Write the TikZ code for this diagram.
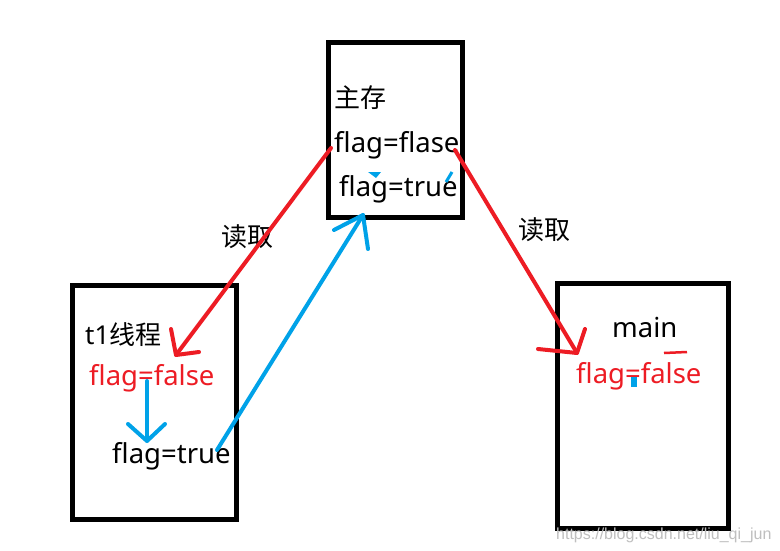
\documentclass[tikz,border=0pt]{standalone}
\usepackage{fontspec}
\setmainfont{Noto Sans}
\newfontfamily\cjk{Noto Sans CJK SC}
\newfontfamily\wmfont{Liberation Sans}
\definecolor{pred}{HTML}{ED1C24}
\definecolor{pblue}{HTML}{00A2E8}
\begin{document}
\begin{tikzpicture}[x=1pt,y=-1pt,
  box/.style={draw=black,line width=5pt,fill=white},
  lbl/.style={inner sep=0pt,anchor=west,font=\fontsize{27.5}{29}\selectfont},
  cjklbl/.style={inner sep=0pt,anchor=west,font=\fontsize{26}{28}\selectfont\cjk},
  redline/.style={draw=pred,line width=4pt,line cap=round,line join=round},
  blueline/.style={draw=pblue,line width=4pt,line cap=round,line join=round}]
\useasboundingbox[fill=white] (0,0) rectangle (780,551);
% boxes
\draw[box] (328,43) rectangle (462,217);
\draw[box] (72,285) rectangle (236,519);
\draw[box] (557,283) rectangle (728,528);
% main memory texts
\node[cjklbl] (zc) at (334,98) {主存};
\node[lbl] (mflase) at (334,145) {flag=flase};
\node[lbl] (mtrue) at (339,189) {flag=true};
% t1 texts
\node[cjklbl] (t1) at (85,335) {\fontspec{Noto Sans}t1\cjk 线程};
\node[lbl,text=pred] (tfalse) at (89,378) {flag=false};
\node[lbl] (ttrue) at (112,456) {flag=true};
% main texts
\node[lbl] (mn) at (612,328) {main};
\node[lbl,text=pred] (mfalse) at (576,376) {flag=false};
% read labels
\node[cjklbl] (rd1) at (221,237) {读取};
\node[cjklbl] (rd2) at (518,230) {读取};
% watermark
\node[inner sep=0pt,anchor=west,text=black!25,font=\fontsize{16}{17}\selectfont\wmfont] (wm) at (556,535) {https://blog.csdn.net/liu\_qi\_jun};
% connector coordinates
\coordinate (r1s) at (331,148);
\coordinate (r1t) at (176,355);
\coordinate (r1a) at (171,329);
\coordinate (r1b) at (199,352);
\coordinate (r2s) at (455,150);
\coordinate (r2t) at (577,353);
\coordinate (r2a) at (585,329);
\coordinate (r2b) at (538,349);
\coordinate (b1s) at (147,381);
\coordinate (b1t) at (147,441);
\coordinate (b1a) at (128,424);
\coordinate (b1b) at (165,424);
\coordinate (b2s) at (217,450);
\coordinate (b2t) at (363,215);
\coordinate (b2a) at (334,230);
\coordinate (b2b) at (368,249);
% red arrows
\draw[redline] (r1s) -- (r1t);
\draw[redline] (r1a) -- (r1t) -- (r1b);
\draw[redline] (r2s) -- (r2t);
\draw[redline] (r2a) -- (r2t) -- (r2b);
% blue arrows
\draw[blueline] (b1s) -- (b1t);
\draw[blueline] (b1a) -- (b1t) -- (b1b);
\draw[blueline] (b2s) -- (b2t);
\draw[blueline] (b2a) -- (b2t) -- (b2b);
% small marks
\fill[pblue] (368,172) -- (381,172) -- (376,178) -- cycle;
\draw[pblue,line width=3pt] (452,172) -- (446,182);
\draw[pred,line width=2.5pt] (664,353) -- (687,352);
\fill[pblue] (631,377) rectangle (637,387);
\end{tikzpicture}
\end{document}
